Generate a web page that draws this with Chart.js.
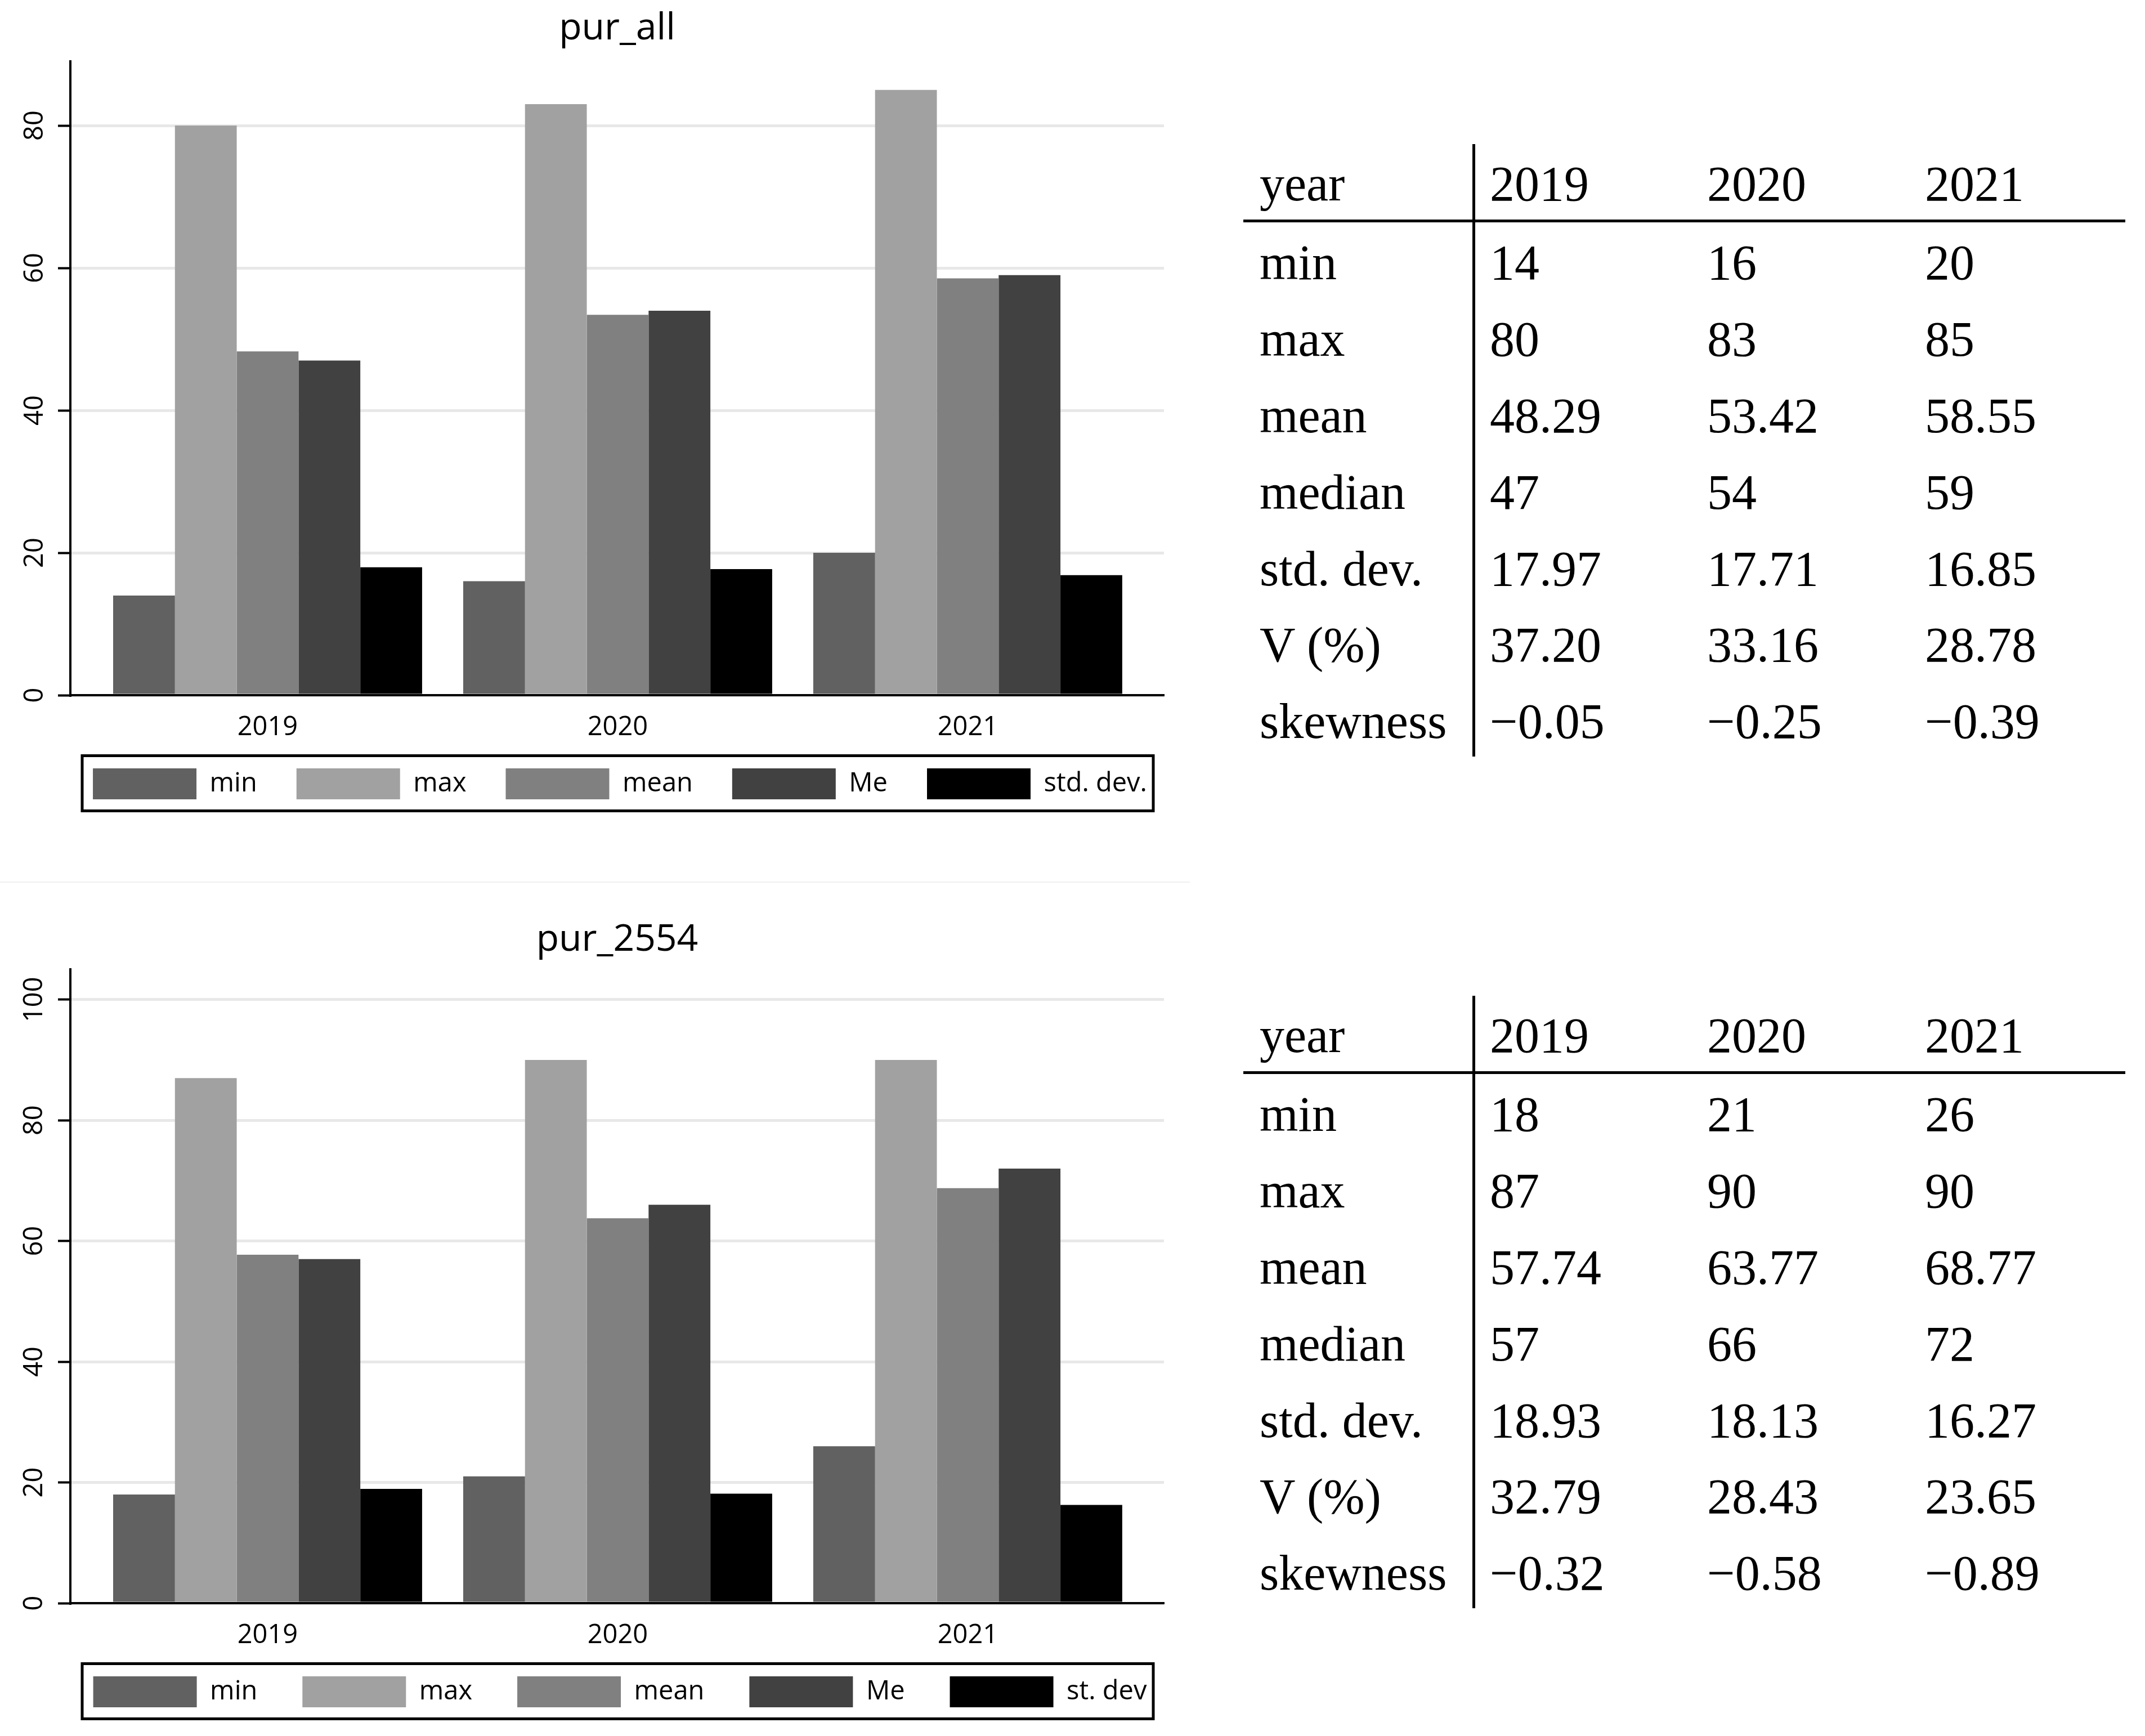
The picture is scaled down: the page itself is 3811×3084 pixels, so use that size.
<!DOCTYPE html>
<html>
<head>
<meta charset="utf-8">
<script src="https://cdn.jsdelivr.net/npm/chart.js@4.4.1/dist/chart.umd.min.js"></script>
<style>
  html, body { margin: 0; padding: 0; background: #fff; }
  body { width: 3811px; height: 3084px; position: relative; overflow: hidden; }
  .panel { position: absolute; left: 0; width: 2203px; height: 1470px; }
  .tbl { position: absolute; left: 0; font-family: 'Liberation Serif', serif; font-size: 88px; color: #000; }
  .cell { position: absolute; height: 100px; line-height: 100px; white-space: nowrap; }
  .line { position: absolute; background: #000; }
  .sep { position: absolute; left: 0; top: 1566px; width: 2114px; height: 2px; background: #efefef; }
</style>
</head>
<body>
<div class="panel" style="top:0"><canvas id="chart1"></canvas></div>
<div class="sep"></div>
<div class="panel" style="top:1613px"><canvas id="chart2"></canvas></div>
<div id="table1" class="tbl" style="top:0"></div>
<div id="table2" class="tbl" style="top:1513px"></div>
<script>
// data
const years = ['2019', '2020', '2021'];
const barColors = ['#616161', '#a1a1a1', '#808080', '#414141', '#000000'];

// pur_all
const names1 = ['min', 'max', 'mean', 'Me', 'std. dev.'];
const min1 = [14, 16, 20];
const max1 = [80, 83, 85];
const mean1 = [48.29, 53.42, 58.55];
const median1 = [47, 54, 59];
const sd1 = [17.97, 17.71, 16.85];
const cv1 = [37.20, 33.16, 28.78];
const skew1 = [-0.05, -0.25, -0.39];
const yTicks1 = [0, 20, 40, 60, 80];

// pur_2554
const names2 = ['min', 'max', 'mean', 'Me', 'st. dev'];
const min2 = [18, 21, 26];
const max2 = [87, 90, 90];
const mean2 = [57.74, 63.77, 68.77];
const median2 = [57, 66, 72];
const sd2 = [18.93, 18.13, 16.27];
const cv2 = [32.79, 28.43, 23.65];
const skew2 = [-0.32, -0.58, -0.89];
const yTicks2 = [0, 20, 40, 60, 80, 100];

const rowLabels = ['min', 'max', 'mean', 'median', 'std. dev.', 'V (%)', 'skewness'];
const rowDecimals = [0, 0, 2, 0, 2, 2, 2];

Chart.defaults.font.family = "'Open Sans', sans-serif";
Chart.defaults.color = '#000';

// legend sits closer to the axis labels, with a box around it like stata
const legendFrame = {
  id: 'legendFrame',
  afterLayout(chart) {
    const lg = chart.legend;
    const top = chart.chartArea.bottom + 130 - lg.options.labels.padding;
    const dy = lg.top - top;
    lg.top -= dy;
    lg.bottom -= dy;
  },
  afterDraw(chart) {
    const { ctx, chartArea, legend } = chart;
    const lab = legend.options.labels;
    const y0 = legend.top + lab.padding;
    ctx.save();
    ctx.strokeStyle = '#000';
    ctx.lineWidth = 5;
    ctx.strokeRect(chartArea.left + 21, y0 - 22.5, chartArea.width - 40, lab.boxHeight + 43);
    ctx.restore();
  }
};

function makeChart(id, cfg) {
  new Chart(document.getElementById(id), {
    type: 'bar',
    data: {
      labels: years,
      datasets: cfg.series.map((vals, i) => ({
        label: cfg.names[i],
        data: vals,
        backgroundColor: barColors[i],
        borderWidth: 0
      }))
    },
    options: {
      responsive: true,
      maintainAspectRatio: false,
      animation: false,
      devicePixelRatio: 1,
      datasets: { bar: { barPercentage: 1, categoryPercentage: 0.8826 } },
      layout: { padding: { left: 0, right: 0, top: 0, bottom: cfg.padBottom } },
      plugins: {
        title: {
          display: true,
          text: cfg.title,
          fullSize: false,
          font: { size: 66, weight: 'normal' },
          padding: cfg.titlePad
        },
        legend: {
          position: 'bottom',
          labels: {
            boxWidth: 184,
            boxHeight: 55,
            padding: cfg.legendPad,
            font: { size: 47 }
          }
        },
        tooltip: { enabled: false }
      },
      scales: {
        x: {
          type: 'linear',
          min: 2018.4365,
          max: 2021.5605,
          offset: false,
          grid: { display: false, drawTicks: false },
          border: { color: '#000', width: 4, z: 1 },
          afterBuildTicks: s => { s.ticks = years.map(y => ({ value: Number(y) })); },
          ticks: { padding: 29, font: { size: 47 }, callback: v => String(v) },
          afterFit: s => { s.height = 86; }
        },
        y: {
          min: 0,
          max: cfg.yMax,
          grid: { color: '#e8e8e8', lineWidth: 5, tickColor: '#000', tickWidth: 4, tickLength: 22 },
          border: { color: '#000', width: 4, z: 1 },
          afterBuildTicks: s => { s.ticks = cfg.yTicks.map(v => ({ value: v })); },
          ticks: { minRotation: 90, maxRotation: 90, crossAlign: 'center', padding: cfg.yPad, font: { size: 47 } },
          afterFit: s => { s.width = 125; }
        },
        // empty axis on the right, just keeps the plot narrower than the legend
        yR: {
          position: 'right',
          grid: { display: false, drawTicks: false },
          border: { display: false },
          ticks: { display: false },
          afterFit: s => { s.width = 135; }
        }
      }
    },
    plugins: [legendFrame]
  });
}

makeChart('chart1', {
  title: 'pur_all',
  titlePad: { top: 12, bottom: 18 },
  names: names1,
  series: [min1, max1, mean1, median1, sd1],
  yMax: 89,
  yTicks: yTicks1,
  yPad: 14,
  legendPad: 70,
  padBottom: 14
});

makeChart('chart2', {
  title: 'pur_2554',
  titlePad: { top: 18, bottom: 12 },
  names: names2,
  series: [min2, max2, mean2, median2, sd2],
  yMax: 105,
  yTicks: yTicks2,
  yPad: 1,
  legendPad: 80,
  padBottom: 4
});

// tables
function fmt(v, d) {
  return (v < 0 ? '\u2212' : '') + Math.abs(v).toFixed(d);
}

function buildTable(id, rows) {
  const box = document.getElementById(id);
  const colX = [2238, 2647, 3033, 3420];
  const addCell = (text, x, baseline) => {
    const c = document.createElement('div');
    c.className = 'cell';
    c.style.left = x + 'px';
    c.style.top = (baseline - 79.7) + 'px';
    c.textContent = text;
    box.appendChild(c);
  };
  const addLine = (x, y, w, h) => {
    const l = document.createElement('div');
    l.className = 'line';
    l.style.left = x + 'px';
    l.style.top = y + 'px';
    l.style.width = w + 'px';
    l.style.height = h + 'px';
    box.appendChild(l);
  };
  addCell('year', colX[0], 357);
  years.forEach((y, j) => addCell(y, colX[j + 1], 357));
  rows.forEach((vals, i) => {
    const b = 497 + i * 135.8;
    addCell(rowLabels[i], colX[0], b);
    vals.forEach((v, j) => addCell(fmt(v, rowDecimals[i]), colX[j + 1], b));
  });
  addLine(2616, 256, 5, 1088);
  addLine(2209, 390, 1567, 5);
}

buildTable('table1', [min1, max1, mean1, median1, sd1, cv1, skew1]);
buildTable('table2', [min2, max2, mean2, median2, sd2, cv2, skew2]);
</script>
</body>
</html>
